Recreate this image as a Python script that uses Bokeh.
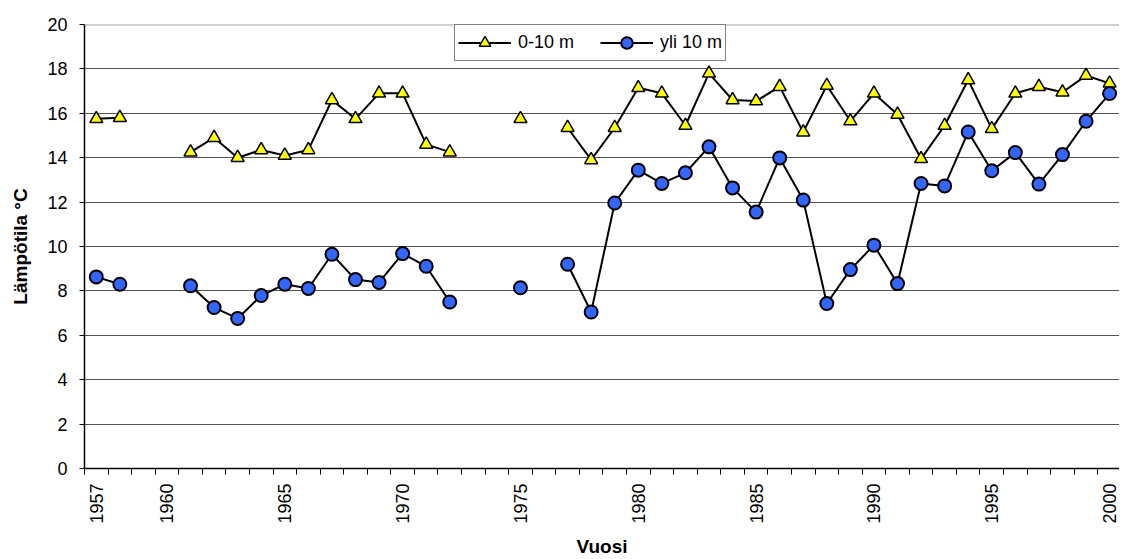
import math
import numpy as np
from bokeh.plotting import figure
from bokeh.models import ColumnDataSource, FixedTicker, Span, Range1d, Legend
from bokeh.embed import file_html
from bokeh.resources import INLINE

# ---- data ----
years = list(range(1957, 2001))
shallow_0_10m = [15.75, 15.8, None, None, 14.25, 14.9, 14.0, 14.35, 14.1, 14.35,
                 16.6, 15.75, 16.9, 16.9, 14.6, 14.25, None, None, 15.75, None,
                 15.35, 13.9, 15.35, 17.15, 16.9, 15.45, 17.8, 16.6, 16.55, 17.2,
                 15.15, 17.25, 15.65, 16.9, 15.95, 13.95, 15.45, 17.5, 15.3, 16.9,
                 17.2, 16.95, 17.7, 17.35]
deep_over_10m = [8.63, 8.3, None, None, 8.23, 7.25, 6.76, 7.79, 8.3, 8.11,
                 9.65, 8.51, 8.38, 9.68, 9.11, 7.5, None, None, 8.14, None,
                 9.2, 7.05, 11.96, 13.44, 12.84, 13.32, 14.49, 12.64, 11.55, 13.99,
                 12.09, 7.43, 8.96, 10.06, 8.33, 12.84, 12.73, 15.16, 13.41, 14.23,
                 12.81, 14.14, 15.64, 16.89]
label_years = [1957, 1960, 1965, 1970, 1975, 1980, 1985, 1990, 1995, 2000]
y_ticks = [0, 2, 4, 6, 8, 10, 12, 14, 16, 18, 20]
series_names = ["0-10 m", "yli 10 m"]

def arr(v):
    return np.array([np.nan if a is None else a for a in v], dtype=float)

src = ColumnDataSource(dict(x=years, s=arr(shallow_0_10m), d=arr(deep_over_10m)))

FONT = "Liberation Sans"

p = figure(width=1119, height=559, output_backend="svg", toolbar_location=None,
           x_range=Range1d(1956.5, 2000.42), y_range=Range1d(0, 20),
           min_border_left=84, min_border_right=0, min_border_top=24, min_border_bottom=91)
p.background_fill_color = "white"
p.border_fill_color = "white"
p.outline_line_color = None

# x axis
xa = p.xaxis[0]
boundaries = [y - 0.5 for y in years] + [years[-1] + 0.5]
xa.ticker = FixedTicker(ticks=label_years, minor_ticks=boundaries)
xa.major_tick_out = 0
xa.major_tick_in = 0
xa.minor_tick_out = 6
xa.minor_tick_in = 0
xa.minor_tick_line_color = "black"
xa.minor_tick_line_width = 1
xa.axis_line_color = "black"
xa.axis_line_width = 1.5
xa.major_label_orientation = math.pi / 2
xa.major_label_text_font = FONT
xa.major_label_text_font_size = "18px"
xa.major_label_text_color = "black"
xa.major_label_standoff = 9
xa.axis_label = "Vuosi"
xa.axis_label_text_font = FONT
xa.axis_label_text_font_style = "bold"
xa.axis_label_text_font_size = "19px"
xa.axis_label_text_color = "black"
xa.axis_label_standoff = 9

# y axis
ya = p.yaxis[0]
ya.ticker = FixedTicker(ticks=y_ticks)
ya.major_tick_out = 5
ya.major_tick_in = 0
ya.minor_tick_line_color = None
ya.axis_line_color = "black"
ya.axis_line_width = 1.5
ya.major_label_text_font = FONT
ya.major_label_text_font_size = "18px"
ya.major_label_text_color = "black"
ya.major_label_standoff = 12
ya.axis_label = "Lämpötila °C"
ya.axis_label_text_font = FONT
ya.axis_label_text_font_style = "bold"
ya.axis_label_text_font_size = "19px"
ya.axis_label_text_color = "black"
ya.axis_label_standoff = 13

p.xgrid.grid_line_color = None
p.ygrid.grid_line_color = "#555555"
p.ygrid.grid_line_width = 1

p.add_layout(Span(location=20, dimension="width", line_color="#a0a0a0", line_width=2))

l1 = p.line("x", "s", source=src, line_color="black", line_width=2)
m1 = p.scatter("x", "s", source=src, marker="triangle", size=13,
               fill_color="#ffff00", line_color="black", line_width=1.5)
l2 = p.line("x", "d", source=src, line_color="black", line_width=2)
m2 = p.scatter("x", "d", source=src, marker="circle", size=13,
               fill_color="#3366ff", line_color="black", line_width=2)

legend = Legend(items=[(series_names[0], [l1, m1]), (series_names[1], [l2, m2])],
                location=(370, 407), orientation="horizontal")
legend.border_line_color = "black"
legend.border_line_width = 1
legend.background_fill_color = "white"
legend.background_fill_alpha = 1
legend.label_text_font = FONT
legend.label_text_font_size = "18px"
legend.label_text_color = "black"
legend.glyph_width = 53
legend.glyph_height = 29
legend.label_height = 20
legend.label_standoff = 7
legend.padding = 3
legend.spacing = 26
legend.margin = 0
p.add_layout(legend)

open("out.html", "w").write(file_html(p, INLINE))
